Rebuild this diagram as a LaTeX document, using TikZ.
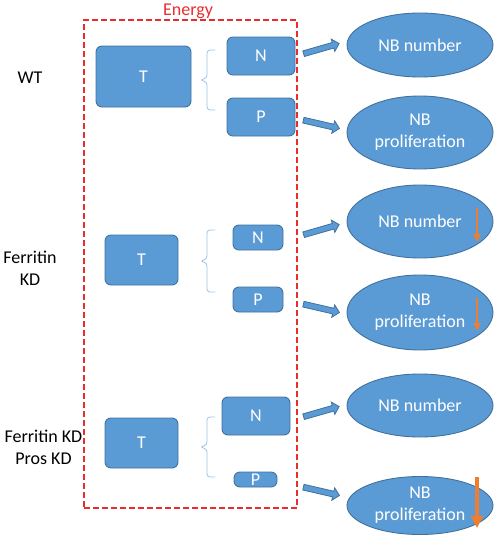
\documentclass[tikz,border=0pt]{standalone}
\usepackage{fontspec}
\setmainfont{Carlito}
\usetikzlibrary{shapes,arrows.meta,positioning,calc}
\definecolor{boxblue}{RGB}{91,155,213}
\definecolor{edgeblue}{RGB}{65,113,156}
\definecolor{bracelight}{RGB}{157,195,230}
\definecolor{energyred}{RGB}{232,45,45}
\definecolor{downorange}{RGB}{237,125,49}

\begin{document}
\begin{tikzpicture}[x=1pt, y=-1pt,
  every node/.style={font=\fontsize{18}{22}\selectfont},
  box/.style={draw=edgeblue, line width=0.9pt, fill=boxblue, rounded corners=6pt, text=white, inner sep=0pt},
  blob/.style={draw=edgeblue, line width=0.9pt, fill=boxblue, ellipse, text=white, align=center, inner sep=0pt, minimum width=146pt},
  fat/.style={single arrow, draw=edgeblue, fill=boxblue, line width=0.8pt, inner sep=2.5pt, single arrow head extend=3.5pt, minimum height=37pt},
  curly/.style={draw=bracelight, line width=0.8pt, rounded corners=3pt},
  lowered/.style={draw=downorange, line width=2pt, -{Triangle[width=7pt, length=8pt]}},
  lowered big/.style={draw=downorange, line width=4pt, -{Triangle[width=12pt, length=12pt]}}
]
\useasboundingbox (0,0) rectangle (500,538);

% Energy frame
\node[draw=energyred, dash pattern=on 6pt off 3pt, line width=1.3pt, minimum width=213pt, minimum height=488pt, inner sep=0pt] (energy) at (190.5,264) {};
\node[text=energyred, anchor=base] (energylbl) at (188,15.5) {Energy};

% WT
\node (wt) at (30,78) {WT};
\node[box, minimum width=95pt, minimum height=61pt] (t1) at (143.5,76.5) {T};
\node[box, minimum width=68pt, minimum height=38pt] (n1) at (261,56) {N};
\node[box, minimum width=68pt, minimum height=38pt] (p1) at (261,117) {P};
\draw[curly] (215,50) -- (207,50) -- (207,78) -- (200,80) -- (207,82) -- (207,110) -- (215,110);
\node[fat, rotate=16] (a1) at (320,49) {};
\node[fat, rotate=-13] (a2) at (320,124) {};
\node[blob, minimum height=64pt] (e1) at (420,45) {NB number};
\node[blob, minimum height=73pt] (e2) at (420,132.5) {NB\\proliferation};

% Ferritin KD
\node[align=center] (fkd) at (30,268) {Ferritin\\KD};
\node[box, minimum width=73pt, minimum height=50pt] (t2) at (141.5,260) {T};
\node[box, minimum width=50pt, minimum height=25pt] (n2) at (258,237.5) {N};
\node[box, minimum width=50pt, minimum height=25pt] (p2) at (258,299.5) {P};
\draw[curly] (215,230) -- (207,230) -- (207,259) -- (200,261) -- (207,263) -- (207,292) -- (215,292);
\node[fat, rotate=16] (a3) at (320,230) {};
\node[fat, rotate=-13] (a4) at (320,308) {};
\node[blob, minimum height=73pt] (e3) at (420,221.5) {NB number};
\node[blob, minimum height=75pt] (e4) at (420,312.5) {NB\\proliferation};
\coordinate (d1s) at (477,208);
\coordinate (d1e) at (477,242);
\coordinate (d2s) at (477,298);
\coordinate (d2e) at (477,331);
\draw[lowered] (d1s) -- (d1e);
\draw[lowered] (d2s) -- (d2e);

% Ferritin KD + Pros KD
\node[align=center] (fpkd) at (43.5,447) {Ferritin KD\\Pros KD};
\node[box, minimum width=73pt, minimum height=50pt] (t3) at (141.5,443) {T};
\node[box, minimum width=68pt, minimum height=38pt] (n3) at (256,416) {N};
\node[box, minimum width=43pt, minimum height=15pt] (p3) at (255.5,479.5) {P};
\draw[curly] (215,417) -- (207,417) -- (207,445) -- (200,447) -- (207,449) -- (207,477) -- (215,477);
\node[fat, rotate=16] (a5) at (320,412) {};
\node[fat, rotate=-13] (a6) at (320,491) {};
\node[blob, minimum height=63pt] (e5) at (420,405.5) {NB number};
\node[blob, minimum height=58pt] (e6) at (420,505.5) {NB\\proliferation};
\coordinate (d3s) at (477,477);
\coordinate (d3e) at (477,528);
\draw[lowered big] (d3s) -- (d3e);
\end{tikzpicture}
\end{document}
